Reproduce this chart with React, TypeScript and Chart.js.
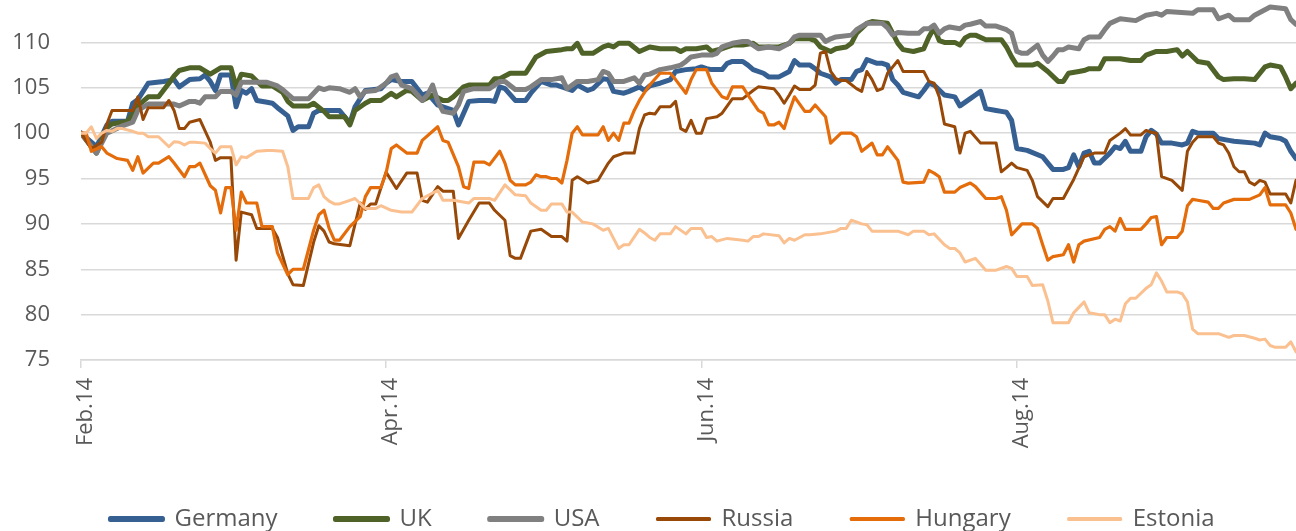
import React, { useEffect, useRef } from 'react';
import { Chart, registerables } from 'chart.js';

Chart.register(...registerables);

// x values are days counted from 1 Feb 2014
const tickDays = [0, 59, 120, 181];
const tickLabels = ['Feb.14', 'Apr.14', 'Jun.14', 'Aug.14'];
const yTicks = [75, 80, 85, 90, 95, 100, 105, 110];

const germanyDays = [0, 3, 5, 6, 9, 10, 11, 13, 16, 18, 19, 21, 23, 24, 25, 26, 27, 29, 30, 31, 32, 33, 34, 36, 37, 38, 40, 41, 42, 44, 45, 46, 48, 50, 52, 53, 55, 58, 59, 60, 62, 64, 66, 67, 69, 70, 72, 73, 75, 77, 79, 80, 81, 82, 84, 86, 87, 89, 91, 92, 93, 95, 96, 98, 99, 101, 102, 103, 105, 106, 108, 109, 110, 112, 114, 115, 117, 119, 120, 121, 122, 124, 125, 126, 128, 129, 130, 132, 133, 135, 137, 138, 139, 141, 142, 143, 145, 146, 147, 149, 150, 151, 152, 154, 155, 156, 157, 158, 159, 162, 163, 164, 165, 167, 169, 170, 172, 173, 174, 175, 177, 178, 179, 180, 181, 183, 186, 187, 188, 190, 191, 192, 193, 194, 195, 196, 197, 199, 200, 201, 202, 203, 205, 206, 207, 208, 209, 211, 213, 214, 215, 216, 219, 220, 222, 223, 227, 228, 229, 230, 232, 233, 234, 235];
const germanyValues = [100, 98.5, 100.9, 101.3, 101.3, 103.3, 103.7, 105.5, 105.7, 105.9, 105.1, 105.9, 106, 106.4, 105.7, 104.7, 106.4, 106.4, 102.9, 104.7, 104.4, 104.9, 103.6, 103.4, 103.3, 102.8, 101.9, 100.3, 100.7, 100.7, 102.2, 102.5, 102.5, 102.5, 101.1, 102.9, 104.7, 104.9, 105.5, 105.9, 105.7, 105.7, 104.2, 104.4, 103.1, 102.9, 102.5, 100.9, 103.5, 103.6, 103.6, 103.5, 105.1, 104.9, 103.6, 103.6, 104.4, 105.7, 105.3, 105.3, 105.1, 104.7, 105.3, 104.7, 104.9, 106, 105.9, 104.6, 104.4, 104.6, 105.1, 104.7, 105.2, 105.5, 105.9, 106.8, 107, 107.1, 107.3, 107.1, 107, 107, 107.7, 107.9, 107.9, 107.5, 107, 106.6, 106.2, 106.2, 106.8, 108, 107.5, 107.5, 107.1, 106.6, 106.2, 105.5, 105.9, 105.9, 106.8, 107, 108.1, 107.7, 107.7, 107.5, 105.9, 105.3, 104.5, 104, 104.7, 105.5, 105.3, 104.2, 104, 103, 103.8, 104.2, 104.6, 102.7, 102.5, 102.4, 102.3, 101.4, 98.3, 98.1, 97.4, 96.7, 96, 96, 96.2, 97.6, 96.3, 97.8, 98, 96.7, 96.7, 97.8, 98.5, 98.3, 99.1, 98, 98, 99.6, 100.3, 99.9, 98.9, 98.9, 98.7, 98.9, 100.2, 100, 100, 99.4, 99.2, 99.1, 98.9, 98.7, 100, 99.6, 99.4, 99.1, 98, 97.2];

const ukDays = [0, 3, 5, 6, 9, 11, 13, 15, 17, 18, 19, 21, 23, 25, 27, 29, 30, 31, 33, 35, 37, 39, 40, 41, 44, 45, 47, 48, 51, 52, 53, 55, 56, 58, 60, 61, 63, 64, 66, 68, 70, 71, 72, 74, 75, 79, 80, 81, 83, 86, 87, 88, 90, 93, 94, 95, 96, 97, 99, 101, 102, 103, 104, 106, 108, 110, 112, 115, 116, 117, 119, 121, 122, 124, 126, 128, 130, 131, 133, 135, 137, 138, 141, 142, 143, 145, 146, 148, 149, 150, 152, 153, 156, 157, 158, 159, 161, 163, 164, 165, 166, 167, 169, 170, 171, 172, 173, 175, 178, 179, 180, 181, 184, 185, 187, 189, 190, 191, 193, 194, 195, 197, 198, 201, 203, 205, 206, 208, 210, 212, 213, 214, 216, 218, 220, 221, 223, 225, 227, 229, 230, 232, 233, 234, 235];
const ukValues = [100, 97.8, 100.6, 101, 101.3, 103, 104, 104, 105.5, 106.3, 106.9, 107.2, 107.2, 106.5, 107.2, 107.2, 105.1, 106.5, 106.3, 105.2, 105.2, 104.5, 103.5, 103, 103, 103.3, 102.4, 101.8, 101.8, 100.9, 102.5, 103.3, 103.6, 103.6, 104.4, 104, 104.7, 104.6, 103.6, 104.2, 103.6, 103.6, 104, 105.1, 105.3, 105.3, 106, 106, 106.6, 106.6, 107.5, 108.4, 109, 109.2, 109.3, 109.3, 109.9, 108.8, 108.8, 109.5, 109.7, 109.5, 109.9, 109.9, 109, 109.5, 109.3, 109.3, 109, 109.3, 109.3, 109.5, 109, 109.3, 109.7, 109.7, 109.9, 109.5, 109.5, 109.5, 109.9, 110.4, 110.4, 110.2, 109.5, 109, 109.3, 109.5, 109.9, 111, 112.1, 112.3, 112.1, 111, 109.9, 109.2, 109, 109.3, 110.6, 111.6, 110.2, 110, 110, 109.7, 110.5, 110.8, 110.8, 110.3, 110.3, 109.5, 108.4, 107.5, 107.5, 107.7, 106.8, 105.7, 105.7, 106.6, 106.8, 106.9, 107.1, 107.1, 108.2, 108.2, 108, 108, 108.6, 109, 109, 109.2, 108.5, 109, 107.9, 107.7, 106.2, 105.9, 106, 106, 105.9, 107.3, 107.5, 107.3, 106.2, 104.9, 105.5];

const usaDays = [0, 3, 5, 8, 10, 11, 13, 18, 19, 21, 22, 23, 24, 26, 27, 29, 30, 31, 36, 38, 39, 41, 44, 46, 47, 48, 50, 52, 53, 54, 55, 57, 59, 60, 61, 62, 64, 66, 67, 68, 69, 70, 72, 73, 74, 76, 79, 81, 82, 84, 86, 87, 89, 91, 93, 94, 96, 98, 100, 101, 102, 103, 105, 106, 107, 108, 109, 110, 112, 114, 116, 117, 118, 120, 122, 123, 124, 126, 128, 129, 130, 131, 133, 135, 137, 138, 139, 143, 144, 145, 146, 149, 150, 152, 155, 156, 157, 158, 160, 162, 163, 164, 165, 166, 167, 168, 170, 171, 172, 174, 175, 177, 178, 179, 180, 181, 182, 183, 185, 186, 187, 188, 189, 190, 191, 193, 194, 195, 197, 198, 199, 201, 204, 206, 208, 209, 210, 215, 216, 219, 220, 221, 222, 223, 226, 227, 229, 230, 233, 234, 235];
const usaValues = [100, 97.8, 100, 100.8, 101.2, 102.5, 103.2, 103.2, 103, 103.5, 103.5, 103.3, 104, 104, 104.6, 104.6, 104.2, 105.6, 105.6, 105.2, 104.8, 103.8, 103.8, 105, 104.8, 105, 104.9, 104.5, 104.9, 104, 104.6, 104.7, 105.5, 106.2, 106.4, 105.3, 104.9, 103.6, 104.2, 105.3, 103.5, 102.4, 102.2, 103.1, 104.6, 104.9, 104.9, 105.7, 105.7, 104.8, 104.8, 105.1, 105.9, 105.9, 106.1, 104.9, 105.7, 105.7, 105.9, 106.8, 106.6, 105.7, 105.7, 105.9, 106.1, 105.5, 106.4, 106.5, 107, 107.2, 107.5, 107.9, 108.4, 108.6, 108.6, 108.8, 109.5, 109.9, 110.1, 110.1, 109.7, 109.3, 109.5, 109.3, 109.9, 110.6, 110.8, 110.8, 110.1, 110.4, 110.6, 110.8, 111.4, 112.1, 112.1, 111.6, 110.8, 111.1, 111, 111, 111.5, 111.5, 111.9, 111, 111.5, 111.7, 111.5, 111.9, 112, 112.3, 111.8, 111.8, 111.6, 111.4, 111, 109, 108.8, 108.8, 109.7, 108.6, 107.9, 108.5, 109.2, 109.2, 109.5, 109.3, 110.3, 110.6, 110.6, 111.4, 112.1, 112.6, 112.4, 113, 113.2, 113, 113.4, 113.2, 113.6, 113.6, 112.6, 112.8, 113, 112.5, 112.5, 113, 113.6, 113.9, 113.7, 112.5, 112];

const russiaDays = [0, 2, 4, 5, 6, 10, 11, 12, 13, 16, 17, 18, 19, 20, 21, 23, 25, 26, 27, 29, 30, 31, 33, 34, 37, 38, 39, 40, 41, 43, 45, 46, 47, 48, 49, 52, 54, 55, 56, 57, 59, 61, 63, 65, 66, 67, 69, 70, 72, 73, 75, 77, 79, 80, 82, 83, 84, 85, 87, 89, 91, 93, 94, 95, 96, 98, 100, 102, 103, 105, 107, 108, 109, 110, 111, 112, 114, 115, 116, 117, 118, 119, 120, 121, 123, 124, 126, 128, 130, 131, 134, 135, 136, 137, 138, 139, 141, 142, 143, 144, 145, 146, 147, 148, 150, 151, 152, 153, 154, 155, 156, 157, 158, 159, 160, 163, 164, 165, 166, 167, 169, 170, 171, 172, 174, 177, 178, 179, 180, 181, 183, 184, 185, 187, 188, 190, 192, 194, 196, 198, 199, 201, 202, 203, 205, 206, 207, 208, 209, 211, 213, 214, 215, 216, 219, 220, 221, 222, 223, 224, 225, 226, 227, 228, 229, 230, 233, 234, 235];
const russiaValues = [100, 98.3, 99, 101, 102.5, 102.5, 104, 101.5, 102.8, 102.8, 103.6, 102.5, 100.5, 100.5, 101.2, 101.5, 99, 97, 97.3, 97.3, 86, 91.3, 91, 89.5, 89.5, 88.5, 86.5, 84.5, 83.3, 83.2, 88, 89.8, 89.2, 88, 87.8, 87.6, 92.3, 91.6, 92.2, 92.2, 95.7, 93.9, 95.6, 95.6, 92.6, 92.4, 94.1, 93.6, 93.6, 88.4, 90.4, 92.3, 92.3, 91.5, 90.4, 86.5, 86.2, 86.2, 89.2, 89.4, 88.6, 88.6, 88.1, 94.8, 95.2, 94.5, 94.8, 96.7, 97.4, 97.8, 97.8, 100.5, 102, 102.2, 102.1, 102.9, 102.9, 103.5, 100.5, 100.2, 101.4, 100, 100, 101.6, 101.8, 102.2, 103.8, 103.8, 104.7, 105.1, 104.9, 104.2, 103.3, 104.2, 105.2, 104.8, 104.8, 105.3, 108.8, 109, 106.8, 106, 105.8, 105.8, 104.9, 104.6, 106.8, 105.9, 104.7, 104.9, 106.6, 107.3, 108, 106.8, 106.8, 106.8, 105.7, 105.5, 104, 101, 100.7, 97.8, 100, 100.2, 98.9, 98.9, 95.75, 96.2, 96.7, 96.2, 95.9, 94.8, 93, 91.9, 92.8, 92.8, 94.9, 97.4, 97.8, 97.8, 99.2, 100, 100.5, 99.8, 99.8, 100.3, 100.1, 100, 95.2, 94.8, 93.7, 98, 99, 99.6, 99.6, 98.9, 98.7, 97.8, 96.3, 95.75, 95.75, 94.6, 94.3, 94.8, 94.6, 93.3, 93.3, 92.3, 94.8];

const hungaryDays = [0, 1, 2, 4, 5, 7, 9, 10, 11, 12, 14, 15, 17, 18, 20, 21, 22, 23, 25, 26, 27, 28, 29, 30, 31, 32, 34, 35, 37, 38, 39, 40, 41, 43, 45, 46, 47, 48, 49, 50, 52, 54, 55, 56, 58, 59, 60, 61, 63, 65, 66, 69, 70, 71, 73, 74, 75, 76, 78, 79, 81, 82, 83, 84, 86, 87, 88, 89, 90, 91, 92, 93, 94, 95, 96, 97, 100, 101, 102, 103, 104, 105, 106, 107, 108, 109, 110, 112, 114, 115, 117, 118, 119, 121, 122, 124, 125, 126, 128, 129, 131, 132, 133, 134, 135, 136, 137, 138, 140, 141, 142, 144, 145, 147, 149, 150, 151, 153, 154, 155, 156, 158, 159, 160, 163, 164, 165, 166, 167, 169, 170, 172, 173, 175, 177, 178, 179, 180, 182, 184, 185, 186, 187, 188, 190, 191, 192, 193, 194, 197, 198, 199, 200, 201, 202, 205, 206, 207, 208, 209, 210, 212, 213, 214, 215, 216, 218, 219, 220, 221, 223, 226, 228, 229, 230, 233, 234, 235];
const hungaryValues = [100, 100, 98, 98.5, 97.8, 97.2, 97, 95.9, 97.4, 95.6, 96.7, 96.7, 97.4, 96.7, 95.2, 96.3, 96.3, 96.7, 94.2, 93.7, 91.2, 94, 94, 89.3, 93.5, 92.3, 92.3, 89.7, 89.7, 86.8, 85.6, 84.4, 85, 85, 89.3, 91, 91.5, 89.5, 88.2, 88.2, 89.7, 90.8, 93, 94, 94, 95.6, 98.3, 98.7, 97.8, 97.8, 99.2, 100.7, 99.2, 99, 96.3, 94.1, 93.9, 96.8, 96.8, 96.5, 98, 96.7, 94.8, 94.3, 94.3, 94.6, 95.4, 95.2, 95.2, 95, 95, 94.5, 97, 100, 100.7, 99.8, 99.8, 100.7, 99.2, 100, 99.2, 101.1, 101.1, 102.5, 103.6, 104.5, 105.3, 106.6, 106.6, 105.9, 104.4, 105.9, 107, 107, 105.5, 104, 103.8, 105.1, 105.1, 104.2, 102.5, 102.2, 100.9, 100.9, 101.2, 100.5, 102.4, 104, 102.4, 102.4, 103.1, 101.8, 98.9, 100, 100, 99.6, 98, 98.9, 97.6, 97.6, 98.5, 97, 94.6, 94.5, 94.6, 95.9, 95.6, 95.2, 93.5, 93.5, 94, 94.5, 94.1, 92.8, 92.8, 93, 91.5, 88.8, 90, 90, 89.5, 87.7, 86, 86.4, 86.6, 87.7, 85.8, 87.7, 88.1, 88.5, 89.4, 89.7, 89.2, 90.6, 89.4, 89.4, 90, 90.7, 90.8, 87.7, 88.5, 88.5, 89.2, 92, 92.7, 92.6, 92.4, 91.7, 91.7, 92.3, 92.7, 92.7, 93.2, 94, 92.1, 92.1, 91.2, 89.4];

const estoniaDays = [0, 1, 2, 3, 4, 5, 6, 7, 8, 10, 11, 12, 13, 15, 17, 18, 19, 20, 21, 22, 24, 25, 26, 27, 29, 30, 31, 32, 34, 36, 37, 39, 40, 41, 44, 45, 46, 47, 48, 49, 50, 52, 53, 55, 57, 58, 60, 62, 64, 66, 67, 69, 70, 72, 75, 76, 79, 80, 82, 84, 86, 87, 89, 90, 91, 93, 94, 95, 97, 99, 101, 102, 104, 105, 106, 108, 109, 110, 111, 112, 114, 115, 117, 118, 120, 121, 122, 123, 125, 128, 129, 130, 131, 132, 135, 136, 137, 138, 140, 141, 143, 146, 147, 148, 149, 151, 152, 153, 158, 160, 161, 163, 164, 165, 167, 168, 169, 170, 171, 173, 175, 177, 179, 180, 181, 183, 184, 186, 187, 188, 191, 192, 193, 194, 195, 197, 198, 199, 200, 201, 202, 203, 204, 206, 207, 208, 209, 210, 212, 213, 214, 215, 216, 219, 220, 222, 223, 225, 227, 228, 229, 230, 231, 233, 234, 235];
const estoniaValues = [100, 100, 100.7, 99.4, 100, 100.3, 100.2, 100.5, 100.5, 100.2, 100, 100, 99.6, 99.6, 98.5, 99.05, 99, 98.7, 99, 99, 98.9, 98.3, 97.8, 98.5, 98.5, 96.5, 97.4, 97.3, 98, 98.1, 98.1, 98, 96.3, 92.8, 92.8, 94, 94.3, 93, 92.5, 92.2, 92.2, 92.6, 92.8, 91.7, 91.7, 92, 91.5, 91.3, 91.3, 92.8, 93.1, 93.7, 92.6, 92.6, 92.3, 92.8, 92.8, 92.6, 94.3, 93.2, 93.1, 92.3, 91.5, 91.5, 92.2, 92.2, 91.3, 91.3, 90.2, 90, 89.3, 89.5, 87.3, 87.7, 87.7, 89.4, 89, 88.5, 88.2, 88.9, 88.9, 89.7, 88.9, 89.5, 89.5, 88.5, 88.6, 88.1, 88.4, 88.2, 88.1, 88.6, 88.6, 88.9, 88.7, 87.9, 88.4, 88.2, 88.8, 88.8, 88.9, 89.2, 89.5, 89.5, 90.4, 90, 89.9, 89.2, 89.2, 88.8, 89.2, 89.2, 88.8, 88.9, 87.7, 87.3, 87.3, 86.8, 85.8, 86.2, 84.9, 84.9, 85.3, 85.1, 84.2, 84.2, 83.2, 83.3, 81.5, 79.1, 79.1, 80.2, 80.8, 81.4, 80.2, 80, 80, 79.1, 79.5, 79.3, 81.2, 81.8, 81.8, 82.9, 83.3, 84.6, 83.7, 82.5, 82.5, 82.3, 81.4, 78.4, 77.9, 77.9, 77.9, 77.5, 77.7, 77.7, 77.4, 77.2, 77.3, 76.6, 76.4, 76.4, 77, 75.9];

const seriesNames = ['Germany', 'UK', 'USA', 'Russia', 'Hungary', 'Estonia'];
const seriesDays = [germanyDays, ukDays, usaDays, russiaDays, hungaryDays, estoniaDays];
const seriesValues = [germanyValues, ukValues, usaValues, russiaValues, hungaryValues, estoniaValues];

const seriesColors = ['#376092', '#4F6228', '#808080', '#984807', '#E46C0A', '#FAC090'];
const seriesWidths = [5, 5, 5, 3, 3.2, 3];

const FONT = "'Open Sans', 'Noto Sans', sans-serif";
const TEXT = '#595959';
const GRID = '#D9D9D9';

const legendShift = {
  id: 'legendShift',
  afterLayout(chart: any) {
    const l = chart.legend;
    if (l) {
      l.left += 9;
      l.right += 9;
    }
  },
};

export default function App() {
  const ref = useRef<HTMLCanvasElement | null>(null);

  useEffect(() => {
    document.body.style.margin = '0';
    const canvas = ref.current;
    if (!canvas) return;

    const datasets = seriesNames.map((name, i) => ({
      label: name,
      data: seriesDays[i].map((d, j) => ({ x: d, y: seriesValues[i][j] })),
      borderColor: seriesColors[i],
      backgroundColor: seriesColors[i],
      borderWidth: seriesWidths[i],
      borderJoinStyle: 'round' as const,
      borderCapStyle: 'round' as const,
      pointRadius: 0,
      pointHoverRadius: 0,
      tension: 0,
      fill: false,
      order: seriesNames.length - i,
    }));

    const chart = new Chart(canvas, {
      type: 'line',
      data: { datasets },
      plugins: [legendShift],
      options: {
        animation: false,
        responsive: false,
        events: [],
        layout: { padding: { left: 11, right: 0, top: 0, bottom: -10 } },
        plugins: {
          legend: {
            position: 'bottom',
            labels: {
              boxWidth: 52,
              boxHeight: 1,
              padding: 58,
              color: TEXT,
              font: { family: FONT, size: 24 },
              sort: (a: any, b: any) => a.datasetIndex - b.datasetIndex,
            },
          },
          tooltip: { enabled: false },
        },
        scales: {
          x: {
            type: 'linear',
            min: 0,
            max: 235,
            afterBuildTicks: (s: any) => {
              s.ticks = tickDays.map((v) => ({ value: v }));
            },
            afterFit: (s: any) => {
              s.height = 89;
            },
            ticks: {
              autoSkip: false,
              maxRotation: 90,
              minRotation: 90,
              padding: 10,
              labelOffset: 5,
              color: TEXT,
              font: { family: FONT, size: 22 },
              callback: (v: any) => {
                const i = tickDays.indexOf(Number(v));
                return i >= 0 ? tickLabels[i] : '';
              },
            },
            grid: { drawOnChartArea: false, drawTicks: true, tickLength: 8, color: GRID, lineWidth: 1.5 },
            border: { display: true, color: GRID, width: 1.5 },
          },
          y: {
            type: 'linear',
            min: 75,
            max: 114.66,
            afterBuildTicks: (s: any) => {
              s.ticks = yTicks.map((v) => ({ value: v }));
            },
            afterFit: (s: any) => {
              s.width = 70;
            },
            ticks: {
              padding: 0,
              color: TEXT,
              font: { family: FONT, size: 22, lineHeight: 0.01 },
            },
            grid: {
              drawTicks: true,
              tickLength: 31,
              tickColor: 'rgba(0,0,0,0)',
              color: GRID,
              lineWidth: 1.5,
            },
            border: { display: false },
          },
        },
      },
    });

    return () => chart.destroy();
  }, []);

  return (
    <div style={{ width: 1296, height: 531, overflow: 'hidden' }}>
      <canvas ref={ref} width={1296} height={531} style={{ display: 'block' }} />
    </div>
  );
}
